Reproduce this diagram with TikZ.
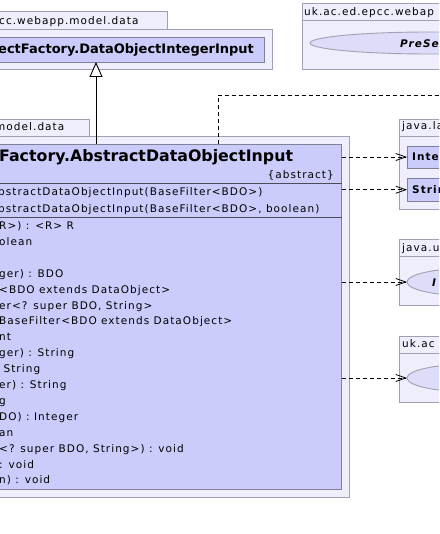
\documentclass[tikz,border=0pt]{standalone}
\usepackage{fontspec}
\setmainfont{DejaVu Sans}
\newfontfamily\bodyf[LetterSpace=10]{DejaVu Sans}
\usetikzlibrary{arrows.meta,shapes.geometric}
\definecolor{pkgfill}{RGB}{238,238,252}
\definecolor{pkgline}{RGB}{160,160,178}
\definecolor{clsfill}{RGB}{204,204,252}
\definecolor{clsline}{RGB}{128,128,150}
\definecolor{ellfill}{RGB}{221,221,250}
\newcommand\rbox[6]{\node[#6, minimum width={(#4-#2)*1pt}, minimum height={(#5-#3)*1pt}] (#1) at ({(#2+#4)/2},{(#3+#5)/2}) {};}
\begin{document}
\begin{tikzpicture}[x=1pt,y=-1pt,
  pkg/.style={draw=pkgline, fill=pkgfill, line width=0.9pt, inner sep=0pt, outer sep=0pt, rectangle},
  cls/.style={draw=clsline, fill=clsfill, line width=0.9pt, inner sep=0pt, outer sep=0pt, rectangle},
  ell/.style={draw=pkgline, fill=ellfill, line width=0.9pt, inner sep=0pt, outer sep=0pt, ellipse},
  txt/.style={anchor=base west, inner sep=0pt, font=\bodyf\fontsize{10.5}{12}\selectfont},
  btxt/.style={anchor=base west, inner sep=0pt, font=\bodyf\fontsize{10.5}{12}\selectfont\bfseries},
  dep/.style={draw=black, line width=0.8pt, dash pattern=on 4pt off 3pt, -{Straight Barb[length=10pt,width=7pt]}},
  gen/.style={draw=black, line width=0.9pt, -{Triangle[open,length=15pt,width=13pt,fill=white]}}]
\clip (0,0) rectangle (439,534);
\fill[white] (0,0) rectangle (439,534);
% top-left package
\rbox{tlTab}{-100}{11}{167}{29}{pkg}
\rbox{tlPkg}{-100}{29}{272.5}{69}{pkg}
\rbox{topc}{-100}{37}{264}{62}{cls}
\node[txt] (tlLbl) at (-1,25) {cc.webapp.model.data};
\node[anchor=base west, inner sep=0pt, font=\fontsize{13}{15}\selectfont\bfseries] (topcT) at (-2,54) {ectFactory.DataObjectIntegerInput};
% top-right package
\rbox{trTab}{302}{3}{480}{20}{pkg}
\rbox{trPkg}{302}{20}{480}{69}{pkg}
\node[ell, minimum width=240pt, minimum height=22pt] (pres) at (430,43) {};
\node[btxt, font=\bodyf\fontsize{10.5}{12}\selectfont\bfseries\itshape] (presT) at (400,48) {PreSe};
\node[txt] (trLbl) at (304,16) {uk.ac.ed.epcc.webap};
% main package
\rbox{mTab}{-100}{119}{89.5}{136}{pkg}
\rbox{mPkg}{-100}{136}{349.5}{497}{pkg}
\rbox{main}{-100}{144.5}{341.5}{489}{cls}
\node[txt] (mLbl) at (-5,131) {model.data};
\draw[clsline!60!black, line width=0.9pt] (main.west |- 0,183) -- (main.east |- 0,183);
\draw[clsline!60!black, line width=0.9pt] (main.west |- 0,217) -- (main.east |- 0,217);
\node[anchor=base west, inner sep=0pt, font=\fontsize{15.8}{18}\selectfont\bfseries] (mT) at (-1,162) {Factory.AbstractDataObjectInput};
\node[anchor=base east, inner sep=0pt, font=\bodyf\fontsize{10.5}{12}\selectfont] (mAbs) at (334,179) {\{abstract\}};
\node[txt] (c1) at (-2,196) {bstractDataObjectInput(BaseFilter<BDO>)};
\node[txt] (c2) at (-2,212) {bstractDataObjectInput(BaseFilter<BDO>, boolean)};
\foreach \t [count=\i from 0] in {R>) : <R> R, olean, {}, ger) : BDO, <BDO extends DataObject>, {er<? super BDO, String>}, BaseFilter<BDO extends DataObject>, nt, ger) : String, \ String, er) : String, g, DO) : Integer, an, {<? super BDO, String>) : void}, : void, n) : void}
  \node[txt] (m\i) at (-1,{229.5+15.9*\i}) {\t};
% java.la package
\rbox{jlTab}{399.5}{119.5}{480}{136}{pkg}
\rbox{jlPkg}{399.5}{136}{480}{209}{pkg}
\rbox{inte}{407}{146}{480}{168}{cls}
\rbox{strg}{407}{178.5}{480}{201}{cls}
\node[txt] (jlLbl) at (402,130) {java.la};
\node[btxt] (inteT) at (412,161) {Integer};
\node[btxt] (strgT) at (412,194) {String};
% java.u package
\rbox{juTab}{399.5}{239}{480}{256}{pkg}
\rbox{juPkg}{399.5}{256}{480}{305}{pkg}
\node[ell, minimum width=130pt, minimum height=28pt] (iter) at (472,282) {};
\node[btxt, font=\bodyf\fontsize{10.5}{12}\selectfont\bfseries\itshape] (iterT) at (432,286) {I};
\node[txt] (juLbl) at (402,251) {java.u};
% uk.ac package
\rbox{ukTab}{399.5}{336}{480}{353}{pkg}
\rbox{ukPkg}{399.5}{353}{480}{402}{pkg}
\node[ell, minimum width=130pt, minimum height=28pt] (uki) at (472,378) {};
\node[txt] (ukLbl) at (402,347) {uk.ac};
% connectors
\coordinate (gx) at (96,0);
\draw[gen] (main.north -| gx) -- (topc.south -| gx);
\coordinate (dx) at (218,0);
\coordinate (offr) at (460,95);
\draw[draw=black, line width=0.8pt, dash pattern=on 4pt off 3pt] (main.north -| dx) |- (offr);
\draw[dep] (main.east |- inte.west) -- (inte.west);
\draw[dep] (main.east |- strg.west) -- (strg.west);
\draw[dep] (main.east |- iter.west) -- (iter.west);
\draw[dep] (main.east |- uki.west) -- (uki.west);
\end{tikzpicture}
\end{document}
